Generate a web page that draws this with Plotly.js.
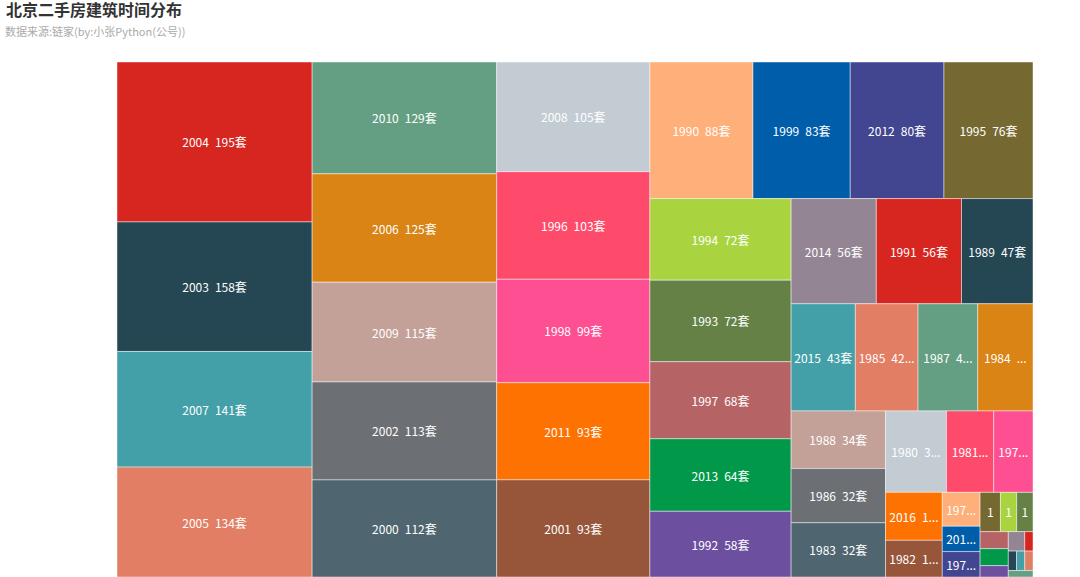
<!DOCTYPE html>
<html><head><meta charset="utf-8">
<script src="https://cdn.plot.ly/plotly-3.0.1.min.js"></script>
<style>body{margin:0;background:#fff}#chart{width:1080px;height:577px}</style>
</head><body><div id="chart"></div>
<script>
const years = ['2004','2003','2007','2005','2010','2006','2009','2002','2000','2008','1996','1998','2011','2001','1990','1999','2012','1995','1994','1993','1997','2013','1992','2014','1991','1989','2015','1985','1987','1984','1988','1986','1983','1980','1981','1979','2016','1982','1976','2017','1977','1975','1978','1970','1974','1973','1972','1965','1960','1958','1956','2018','1950'];
const counts = [195,158,141,134,129,125,115,113,112,105,103,99,93,93,88,83,80,76,72,72,68,64,58,56,56,47,43,42,40,37,34,32,32,31,24,20,17,13,8,6,6,5,4,4,3,3,2,2,1,1,1,1,1];
const unit = '套';
const palette = ['#d7251f','#254653','#43a0a8','#e27e63','#649f84','#d98415','#c3a198','#6c6f74','#4f656f','#c3ccd3','#fe4b6b','#fe4f92','#fe7201','#97563a','#feaf7a','#005daa','#424590','#766831','#a9d33f','#658146','#b56364','#01984a','#6d4fa0','#938594'];

const FONT = '"Noto Sans CJK SC", "Noto Sans", sans-serif';
const SEP = '\u2002';
const full = years.map((y, i) => y + SEP + counts[i] + unit);
const colors = years.map((_, i) => palette[i % palette.length]);

const trace = {
  type: 'treemap',
  labels: years,
  parents: years.map(() => ''),
  values: counts,
  text: full.slice(),
  textinfo: 'text',
  textposition: 'middle center',
  textfont: {family: FONT, size: 12, color: '#ffffff'},
  sort: true,
  marker: {colors: colors, line: {width: 1, color: 'rgba(255,255,255,0.45)'}, pad: {t: 0, l: 0, r: 0, b: 0}},
  tiling: {packing: 'squarify', squarifyratio: 1.618, pad: 0},
  pathbar: {visible: false},
  leaf: {opacity: 1},
  root: {color: '#ffffff'},
  hoverinfo: 'none'
};

const layout = {
  width: 1080, height: 577,
  margin: {l: 117, r: 47, t: 62, b: 0},
  paper_bgcolor: '#ffffff',
  font: {family: FONT},
  title: {
    text: '<b>北京二手房建筑时间分布</b>',
    font: {family: FONT, size: 16, color: '#333333'},
    x: 6 / 1080, xanchor: 'left', xref: 'container',
    y: 1 - 10 / 577, yanchor: 'middle', yref: 'container'
  },
  annotations: [{
    text: '数据来源:链家(by:小张Python(公号))',
    xref: 'paper', yref: 'paper',
    x: (3 - 117) / 916, y: 1 + (62 - 31) / 515,
    xanchor: 'left', yanchor: 'middle', showarrow: false,
    font: {family: FONT, size: 11, color: '#aaaaaa'}
  }]
};

const gd = document.getElementById('chart');
Plotly.newPlot(gd, [trace], layout, {staticPlot: true, displayModeBar: false}).then(() => {
  const ctx = document.createElement('canvas').getContext('2d');
  ctx.font = '12px ' + FONT;
  const w = s => ctx.measureText(s).width;
  const newText = full.slice();
  gd.querySelectorAll('g.slice').forEach(el => {
    const t = el.querySelector('text.slicetext');
    const p = el.querySelector('path.surface');
    if (!t || !p) return;
    const idx = full.indexOf(t.textContent);
    if (idx < 0) return;
    const bb = p.getBBox();
    const avail = bb.width - 6;
    const s = full[idx];
    if (bb.height < 20) { newText[idx] = ''; return; }
    if (w(s) <= avail) return;
    let out = s.slice(0, 1);
    for (let k = s.length - 1; k >= 2; k--) {
      if (w(s.slice(0, k) + '...') <= avail) { out = s.slice(0, k) + '...'; break; }
    }
    newText[idx] = out;
  });
  return Plotly.restyle(gd, {text: [newText]});
});
</script>
</body></html>
